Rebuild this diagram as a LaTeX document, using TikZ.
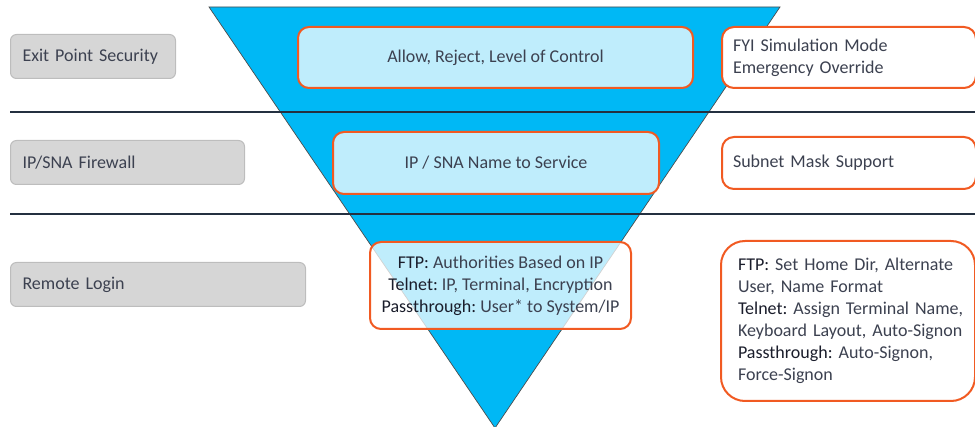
\documentclass[tikz,border=0pt]{standalone}
\usepackage{fontspec}
\setmainfont{Carlito}
\frenchspacing
\definecolor{tri}{HTML}{00B8F5}
\definecolor{org}{HTML}{F15A22}
\definecolor{txt}{HTML}{3C4150}
\definecolor{lbl}{HTML}{1A1D2B}
\definecolor{rulec}{HTML}{243040}
\definecolor{grayfill}{HTML}{D6D6D6}
\definecolor{grayline}{HTML}{BDBDBD}
\newcommand{\kw}[1]{\textcolor{lbl}{#1}}
\newcommand{\ol}[1]{\mbox{#1}}
\begin{document}
\begin{tikzpicture}[x=1pt,y=-1pt,
  font=\fontsize{18}{22}\selectfont\frenchspacing,
  catbox/.style={draw=grayline, fill=grayfill, line width=1pt, rounded corners=6pt,
    inner xsep=12pt, inner ysep=0pt, anchor=north west, align=left, text=txt},
  bluebox/.style={draw=org, line width=2pt, fill=white, fill opacity=0.75, text opacity=1,
    rounded corners=11pt, inner sep=0pt, anchor=north west, align=center, text=txt},
  infobox/.style={draw=org, line width=2pt, fill=white, rounded corners=12pt,
    inner xsep=11pt, inner ysep=0pt, anchor=north west, align=left, text=txt},
  sepline/.style={draw=rulec, line width=1.8pt},
  funnel/.style={fill=tri, draw=black!70, line width=0.7pt}]
\useasboundingbox (0,0) rectangle (975,427);
% funnel
\coordinate (tl) at (209,7);
\coordinate (tr) at (780,7);
\coordinate (ap) at (495,428);
\filldraw[funnel] (tl) -- (tr) -- (ap) -- cycle;
% separators
\coordinate (s1a) at (10,112); \coordinate (s1b) at (976,112);
\coordinate (s2a) at (10,214); \coordinate (s2b) at (976,214);
\draw[sepline] (s1a) -- (s1b);
\draw[sepline] (s2a) -- (s2b);
% category boxes
\node[catbox, minimum width=165pt, minimum height=44pt, text width=141pt] (c1) at (10,34) {Exit Point Security};
\node[catbox, minimum width=234pt, minimum height=44pt, text width=210pt] (c2) at (10,140) {IP/SNA Firewall};
\node[catbox, minimum width=295pt, minimum height=44pt, text width=271pt] (c3) at (10,262) {Remote Login};
% funnel boxes
\node[bluebox, minimum width=395pt, minimum height=61pt] (b1) at (297,26) {Allow, Reject, Level of Control};
\node[bluebox, minimum width=326pt, minimum height=62pt] (b2) at (332,131) {IP / SNA Name to Service};
\node[bluebox, minimum width=261pt, minimum height=87pt] (b3) at (369,241)
  {\kw{FTP:} Authorities Based on IP\\ \kw{Telnet:} IP, Terminal, Encryption\\ \kw{Passthrough:} User* to System/IP};
% info boxes
\node[infobox, minimum width=254pt, minimum height=61pt, text width=232pt] (i1) at (721,26)
  {FYI Simulation Mode\\ Emergency Override};
\node[infobox, minimum width=254pt, minimum height=52pt, text width=232pt] (i2) at (721,136)
  {Subnet Mask Support};
\node[infobox, rounded corners=24pt, inner xsep=17pt, minimum width=254pt, minimum height=160pt, text width=220pt] (i3) at (720,240)
  {\ol{\kw{FTP:} Set Home Dir, Alternate}\\ \ol{User, Name Format}\\ \ol{\kw{Telnet:} Assign Terminal Name,}\\ \ol{Keyboard Layout, Auto-Signon}\\ \ol{\kw{Passthrough:} Auto-Signon,}\\ \ol{Force-Signon}};
\end{tikzpicture}
\end{document}
